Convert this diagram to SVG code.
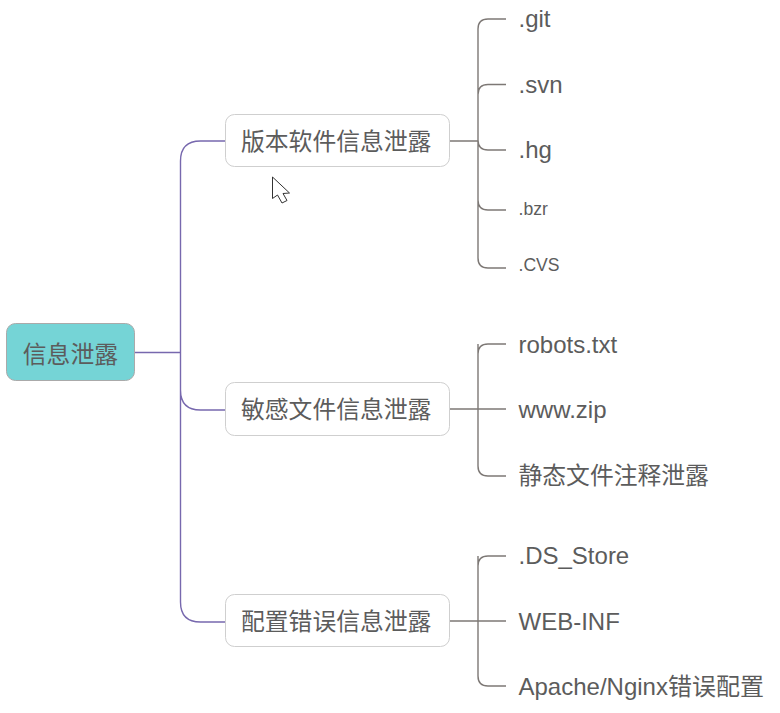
<svg xmlns="http://www.w3.org/2000/svg" width="780" height="713" viewBox="0 0 780 713">
<style>
text{font-family:"Liberation Sans","Noto Sans CJK SC",sans-serif;fill:#5c5c5c}
.t{font-size:24px}.s{font-size:17.600px}.z{font-size:23.800px}
.n{fill:#fff;stroke:#cfcfcf;stroke-width:1}
.c{fill:none;stroke-width:1.4}
.p{stroke:#7768ae}.g{stroke:#7d7875}
</style>
<rect width="780" height="713" fill="#fff"/>
<g id="connectors">
<path class="c p" d="M135 352.500H180.500M180.500 161Q180.500 141 200.500 141H225M180.500 161V602Q180.500 622 200.500 622H225M180.500 390Q180.500 410 200.500 410H225"/>
<path class="c g" d="M450 141H478M478 29Q478 19 488 19H506M478 29V258Q478 268 488 268H506M478 94.500Q478 84.500 488 84.500H506M478 140Q478 150 488 150H506M478 200Q478 210 488 210H506"/>
<path class="c g" d="M450 409H506M478 354Q478 344 488 344H506M478 344V466Q478 476 488 476H506"/>
<path class="c g" d="M450 621H506M478 566Q478 556 488 556H506M478 556V676Q478 686 488 686H506"/>
</g>
<g id="root"><rect x="6.500" y="323.500" width="128" height="57" rx="9" fill="#75d4d6" stroke="#aaaaaa"/><text x="22.800" y="363" class="z">信息泄露</text></g>
<g id="n1"><rect class="n" x="225.500" y="114.500" width="224" height="52" rx="9"/><text x="241" y="150" class="z">版本软件信息泄露</text></g>
<g id="n2"><rect class="n" x="225.500" y="382.500" width="224" height="53" rx="9"/><text x="241" y="418" class="z">敏感文件信息泄露</text></g>
<g id="n3"><rect class="n" x="225.500" y="594.500" width="224" height="52" rx="9"/><text x="241" y="630" class="z">配置错误信息泄露</text></g>
<g id="l1"><text x="518.500" y="27" class="t">.git</text></g>
<g id="l2"><text x="518.500" y="93" class="t">.svn</text></g>
<g id="l3"><text x="518.500" y="158" class="t">.hg</text></g>
<g id="l4"><text x="518.500" y="215" class="s">.bzr</text></g>
<g id="l5"><text x="518.500" y="271" class="s">.CVS</text></g>
<g id="l6"><text x="518.500" y="353" class="t">robots.txt</text></g>
<g id="l7"><text x="518.500" y="418" class="t">www.zip</text></g>
<g id="l8"><text x="518.500" y="484" class="z">静态文件注释泄露</text></g>
<g id="l9"><text x="518.500" y="564" class="t">.DS_Store</text></g>
<g id="l10"><text x="518.500" y="630" class="t">WEB-INF</text></g>
<g id="l11"><text x="518.500" y="695" class="t">Apache/Nginx错误配置</text></g>
<path d="M272.500 177V198.500L277.500 195L282 203L287 200.500L283 193.500L289.500 193Z" fill="#fff" stroke="#333" stroke-width="1"/>
</svg>
